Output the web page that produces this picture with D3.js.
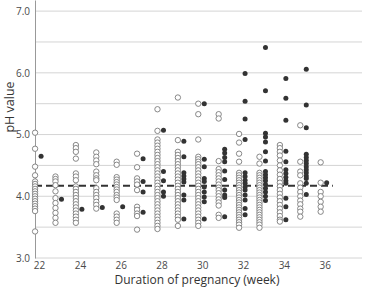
<!DOCTYPE html>
<html>
<head>
<meta charset="utf-8">
<script src="https://cdn.jsdelivr.net/npm/d3@7"></script>
<style>
  body { margin: 0; background: #fff; }
  svg { display: block; font-family: "Open Sans", sans-serif; }
</style>
</head>
<body>
<div id="chart"></div>
<script>
var weeks = [22, 23, 24, 25, 26, 27, 28, 29, 30, 31, 32, 33, 34, 35, 36]

// open circles, one list per week
var openPH = [
    [5.03, 4.77, 4.48, 4.34, 4.24, 4.20, 4.16, 4.12, 4.08, 4.04, 4.00, 3.96, 3.92, 3.88, 3.84, 3.80, 3.76, 3.43],
    [4.32, 4.28, 4.24, 4.18, 4.08, 3.97, 3.89, 3.81, 3.73, 3.65, 3.57],
    [4.83, 4.78, 4.72, 4.61, 4.37, 4.32, 4.26, 4.16, 4.12, 4.07, 4.02, 3.97, 3.92, 3.87, 3.82, 3.77, 3.72, 3.67, 3.62, 3.57],
    [4.71, 4.64, 4.58, 4.52, 4.40, 4.34, 4.29, 4.26, 4.13, 4.07, 4.02, 3.97, 3.91, 3.86, 3.80],
    [4.56, 4.51, 4.31, 4.27, 4.23, 4.19, 4.15, 4.11, 4.07, 4.02, 3.98, 3.94, 3.72, 3.67, 3.62, 3.57],
    [4.69, 4.47, 4.29, 4.24, 4.19, 4.10, 3.83, 3.78, 3.72, 3.68, 3.46],
    [5.41, 5.06, 4.92, 4.87, 4.82, 4.77, 4.72, 4.67, 4.62, 4.57, 4.52, 4.47, 4.42, 4.37, 4.32, 4.27, 4.22, 4.17, 4.12, 4.07, 4.02, 3.97, 3.92, 3.87, 3.82, 3.77, 3.72, 3.67, 3.62, 3.57, 3.52, 3.47],
    [5.60, 4.91, 4.72, 4.67, 4.62, 4.57, 4.52, 4.47, 4.42, 4.37, 4.32, 4.27, 4.22, 4.17, 4.12, 4.07, 4.02, 3.97, 3.92, 3.87, 3.82, 3.77, 3.72, 3.67, 3.62, 3.52],
    [5.50, 5.33, 4.92, 4.64, 4.60, 4.56, 4.52, 4.47, 4.42, 4.37, 4.32, 4.27, 4.22, 4.17, 4.12, 4.07, 4.02, 3.97, 3.92, 3.87, 3.82, 3.77, 3.72, 3.67, 3.62, 3.57, 3.52],
    [5.33, 5.26, 4.57, 4.44, 4.39, 4.34, 4.29, 4.24, 4.19, 4.14, 4.10, 4.05, 4.00, 3.95, 3.90, 3.85, 3.70, 3.65],
    [5.01, 4.87, 4.69, 4.56, 4.38, 4.34, 4.30, 4.26, 4.22, 4.18, 4.14, 4.10, 4.06, 4.02, 3.98, 3.94, 3.90, 3.86, 3.82, 3.78, 3.74, 3.70, 3.66, 3.62, 3.58, 3.54, 3.49],
    [4.64, 4.53, 4.38, 4.34, 4.30, 4.26, 4.22, 4.18, 4.14, 4.10, 4.06, 4.02, 3.98, 3.94, 3.90, 3.86, 3.82, 3.78, 3.74, 3.70, 3.66, 3.62, 3.58, 3.54, 3.49],
    [4.83, 4.78, 4.72, 4.66, 4.58, 4.50, 4.42, 4.35, 4.28, 4.22, 4.16, 4.10, 4.04, 3.98, 3.92, 3.86, 3.80, 3.74, 3.68, 3.62, 3.59],
    [5.15, 4.56, 4.40, 4.34, 4.21, 4.14, 4.07, 4.00, 3.93, 3.87, 3.80, 3.75, 3.67],
    [4.55, 4.22, 4.07, 4.00, 3.91, 3.83, 3.75]
]

// filled (dark) circles, one list per week
var filledPH = [
    [4.65],
    [3.95],
    [3.79],
    [3.82],
    [3.83],
    [4.61, 4.24, 4.07, 3.74],
    [5.07, 4.40, 4.25, 4.07, 4.00],
    [4.89, 4.64, 4.38, 4.33, 4.28, 4.23, 4.02, 3.94, 3.63],
    [5.50, 4.60, 4.48, 4.29, 4.24, 4.15, 4.07, 3.99, 3.91, 3.63],
    [4.76, 4.70, 4.63, 4.56, 4.41, 4.27, 4.10, 4.02, 3.98, 3.67],
    [5.99, 5.54, 5.25, 4.92, 4.38, 4.32, 4.26, 4.21, 4.15, 4.10, 4.02, 3.94, 3.80, 3.70],
    [6.41, 5.71, 5.02, 4.96, 4.88, 4.72, 4.57, 4.40, 4.35, 4.30, 4.25, 4.19, 4.13, 4.07, 4.00, 3.93],
    [5.91, 5.59, 5.23, 4.73, 4.56, 4.43, 4.37, 4.31, 4.25, 4.21, 3.97, 3.83, 3.62],
    [6.06, 5.48, 5.11, 4.68, 4.63, 4.58, 4.53, 4.48, 4.43, 4.38, 4.33, 4.29, 4.21, 4.03],
    [4.22]
]

var meanPH = 4.17,
    meanSpan = [21.8, 36.4]

var yTicks = [3, 4, 5, 6, 7],
    yGrid = [3, 3.5, 4, 4.5, 5, 5.5, 6, 6.5, 7],
    xTicks = [22, 24, 26, 28, 30, 32, 34, 36]

var width = 365,
    height = 287,
    plotLeft = 35,
    plotRight = 362,
    plotTop = 0,
    plotBottom = 258

var svg = d3.select('#chart').append('svg')
    .attr('width', width)
    .attr('height', height)

var x = d3.scaleLinear().domain([21.8, 37.83]).range([plotLeft, plotRight])
var y = d3.scaleLinear().domain([3, 7.18]).range([plotBottom, plotTop])

// gridlines
svg.append('g')
    .selectAll('line')
    .data(yGrid)
    .enter().append('line')
    .attr('x1', plotLeft).attr('x2', plotRight)
    .attr('y1', d => y(d)).attr('y2', d => y(d))
    .style('stroke', '#d4d4d4')
    .style('stroke-width', 1)

// y axis
var axisLeft = d3.axisLeft(y).tickValues(yTicks).tickFormat(d3.format('.1f')).tickSize(0).tickPadding(5)
var gy = svg.append('g')
    .attr('transform', `translate(${plotLeft}, 0)`)
    .call(axisLeft)
gy.select('.domain').style('stroke', '#999')
gy.selectAll('text').style('font-size', '10px').style('fill', '#4a4a4a').style('font-family', '"Open Sans", sans-serif')

// x axis
var axisBottom = d3.axisBottom(x).tickValues(xTicks).tickSize(0).tickPadding(3.5)
var gx = svg.append('g')
    .attr('transform', `translate(0, ${plotBottom})`)
    .call(axisBottom)
gx.select('.domain').remove()
gx.selectAll('text').style('font-size', '10px').style('fill', '#4a4a4a').style('font-family', '"Open Sans", sans-serif')

// mean line
svg.append('line')
    .attr('x1', x(meanSpan[0])).attr('x2', x(meanSpan[1]))
    .attr('y1', y(meanPH)).attr('y2', y(meanPH))
    .style('stroke', '#333')
    .style('stroke-width', 2)
    .style('stroke-dasharray', '7,4')

function flatten(lists) {
    var out = []
    lists.forEach(function (vals, i) {
        vals.forEach(function (v) { out.push({ week: weeks[i], ph: v }) })
    })
    return out
}

svg.append('g')
    .selectAll('circle')
    .data(flatten(openPH))
    .enter().append('circle')
    .attr('cx', d => x(d.week) - 4)
    .attr('cy', d => y(d.ph))
    .attr('r', 2.7)
    .style('fill', '#fff')
    .style('stroke', '#7a7a7a')
    .style('stroke-width', 0.9)

svg.append('g')
    .selectAll('circle')
    .data(flatten(filledPH))
    .enter().append('circle')
    .attr('cx', d => x(d.week) + 2)
    .attr('cy', d => y(d.ph))
    .attr('r', 2.5)
    .style('fill', '#333')

// axis titles
svg.append('text')
    .attr('x', 197).attr('y', 284)
    .attr('text-anchor', 'middle')
    .style('font-size', '12px')
    .style('fill', '#333')
    .text('Duration of pregnancy (week)')

svg.append('text')
    .attr('transform', 'translate(14, 107) rotate(-90)')
    .attr('text-anchor', 'middle')
    .style('font-size', '12.5px')
    .style('fill', '#333')
    .text('pH value')
</script>
</body>
</html>
